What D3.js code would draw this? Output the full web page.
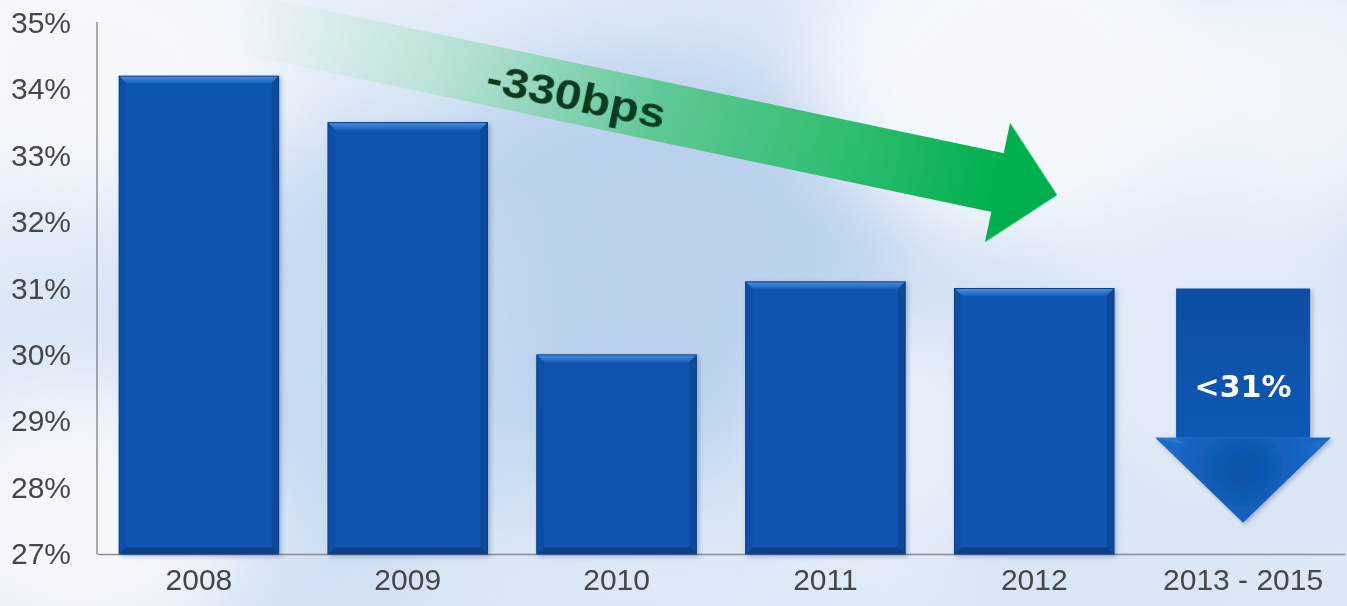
<!DOCTYPE html>
<html>
<head>
<meta charset="utf-8">
<script src="https://cdn.jsdelivr.net/npm/d3@7"></script>
<style>
  html, body { margin: 0; padding: 0; overflow: hidden; background: #dde8f5; }
  svg { display: block; }
</style>
</head>
<body>
<svg id="chart" width="1347" height="606"></svg>
<script>
// Margin by year (%), the last entry is the 2013-2015 target
const categories = ["2008", "2009", "2010", "2011", "2012", "2013 - 2015"];
const margins = [34.2, 33.5, 30.0, 31.1, 31.0, 31.0];
const yTicks = [27, 28, 29, 30, 31, 32, 33, 34, 35];
const targetLabel = "<31%";
const changeLabel = "-330bps";

const W = 1347, H = 606;
const svg = d3.select("#chart");
const defs = svg.append("defs");

// ---------- scales ----------
const x = d3.scaleBand()
  .domain(categories)
  .range([97, 1345])
  .paddingInner(0.236)
  .paddingOuter(0.106);

const y = d3.scaleLinear()
  .domain([27, 35])
  .range([554, 23]);

// ---------- background ----------
const blur = defs.append("filter").attr("id", "soft")
  .attr("x", "-50%").attr("y", "-50%").attr("width", "200%").attr("height", "200%");
blur.append("feGaussianBlur").attr("stdDeviation", 40);

const bgGrad = defs.append("linearGradient").attr("id", "bgGrad")
  .attr("x1", 0).attr("y1", 0).attr("x2", 1).attr("y2", 1);
bgGrad.append("stop").attr("offset", 0).attr("stop-color", "#eef4fb");
bgGrad.append("stop").attr("offset", 0.45).attr("stop-color", "#cfdff2");
bgGrad.append("stop").attr("offset", 1).attr("stop-color", "#dde8f6");

svg.append("rect").attr("width", W).attr("height", H).attr("fill", "url(#bgGrad)");

const blobs = [
  { cx: 640, cy: 260, rx: 260, ry: 200, c: "#b8cfec", o: 0.9 },
  { cx: 380, cy: 330, rx: 160, ry: 200, c: "#c3d7ef", o: 0.8 },
  { cx: 1020, cy: 70, rx: 210, ry: 170, c: "#f6f9fd", o: 0.95 },
  { cx: 1300, cy: 90, rx: 120, ry: 130, c: "#f3f7fc", o: 0.9 },
  { cx: 90, cy: 60, rx: 200, ry: 140, c: "#f4f8fc", o: 0.95 },
  { cx: 80, cy: 520, rx: 170, ry: 140, c: "#f5f8fc", o: 0.95 },
  { cx: 880, cy: 430, rx: 110, ry: 110, c: "#eef4fb", o: 0.8 },
  { cx: 1200, cy: 330, rx: 140, ry: 160, c: "#e6eef8", o: 0.7 },
  { cx: 700, cy: 590, rx: 300, ry: 50, c: "#e2ecf7", o: 0.8 }
];
svg.append("g").attr("filter", "url(#soft)")
  .selectAll("ellipse").data(blobs).join("ellipse")
  .attr("cx", d => d.cx).attr("cy", d => d.cy)
  .attr("rx", d => d.rx).attr("ry", d => d.ry)
  .attr("fill", d => d.c).attr("opacity", d => d.o);

// ---------- axes ----------
const fontAxis = "'Liberation Sans', Arial, sans-serif";

const yAxis = svg.append("g")
  .attr("transform", `translate(${x.range()[0]},0)`)
  .call(d3.axisLeft(y).tickValues(yTicks).tickSize(0).tickPadding(26)
    .tickFormat(d => d + "%"));
yAxis.select(".domain").attr("stroke", "#8a8e94").attr("stroke-width", 1.5)
  .attr("d", `M0,${y(35) - 1}V${y(27)}`);
yAxis.selectAll("text")
  .attr("font-family", fontAxis).attr("font-size", 30)
  .attr("fill", "#46474b");

const xAxis = svg.append("g")
  .attr("transform", `translate(0,${y(27)})`)
  .call(d3.axisBottom(x).tickSize(0).tickPadding(15));
xAxis.select(".domain").attr("stroke", "#8a8e94").attr("stroke-width", 1.5);
xAxis.selectAll("text")
  .attr("font-family", fontAxis).attr("font-size", 30)
  .attr("fill", "#46474b");

// ---------- bevelled bars ----------
const shadow = defs.append("filter").attr("id", "shadow")
  .attr("x", "-10%").attr("y", "-10%").attr("width", "130%").attr("height", "130%");
shadow.append("feDropShadow").attr("dx", 2).attr("dy", 2)
  .attr("stdDeviation", 2).attr("flood-color", "#1b3560").attr("flood-opacity", 0.3);

const topGrad = defs.append("linearGradient").attr("id", "topBevel")
  .attr("x1", 0).attr("y1", 0).attr("x2", 0).attr("y2", 1);
topGrad.append("stop").attr("offset", 0).attr("stop-color", "#4a8ddc");
topGrad.append("stop").attr("offset", 1).attr("stop-color", "#1a63c0");

const barData = categories.slice(0, 5).map((c, i) => ({ cat: c, v: margins[i] }));
const bevel = 7;
const poly = pts => pts.map(p => p.join(",")).join(" ");

const barG = svg.append("g").selectAll("g").data(barData).join("g")
  .attr("filter", "url(#shadow)");

barG.each(function (d) {
  const g = d3.select(this);
  const x0 = x(d.cat), x1 = x0 + x.bandwidth();
  const t = y(d.v), b = y(27);
  g.append("rect").attr("x", x0).attr("y", t)
    .attr("width", x1 - x0).attr("height", b - t).attr("fill", "#0b55b0");
  g.append("polygon").attr("points", poly([[x0, t], [x1, t], [x1 - bevel, t + bevel], [x0 + bevel, t + bevel]]))
    .attr("fill", "url(#topBevel)");
  g.append("polygon").attr("points", poly([[x1, t], [x1, b], [x1 - bevel, b - bevel], [x1 - bevel, t + bevel]]))
    .attr("fill", "#0a4899");
  g.append("polygon").attr("points", poly([[x0, b], [x1, b], [x1 - bevel, b - bevel], [x0 + bevel, b - bevel]]))
    .attr("fill", "#083f88");
  g.append("polygon").attr("points", poly([[x0, t], [x0 + bevel, t + bevel], [x0 + bevel, b - bevel], [x0, b]]))
    .attr("fill", "#0a50a8");
  g.append("rect").attr("x", x0).attr("y", t)
    .attr("width", x1 - x0).attr("height", b - t)
    .attr("fill", "none").attr("stroke", "#0a3f86").attr("stroke-width", 1);
});

// ---------- target arrow (2013 - 2015) ----------
const tCat = categories[5];
const tVal = margins[5];
const cx = x(tCat) + x.bandwidth() / 2;
const bodyHalf = x.bandwidth() * 0.42;
const headHalf = x.bandwidth() * 0.55;
const arrowTop = y(tVal);
const headBase = y(28.75);
const arrowTip = y(27.47);

const bodyGrad = defs.append("linearGradient").attr("id", "bodyGrad")
  .attr("x1", 0).attr("y1", 0).attr("x2", 0).attr("y2", 1);
bodyGrad.append("stop").attr("offset", 0).attr("stop-color", "#0b4ea4");
bodyGrad.append("stop").attr("offset", 1).attr("stop-color", "#0e58b3");

const headGrad = defs.append("radialGradient").attr("id", "headGrad")
  .attr("gradientUnits", "userSpaceOnUse")
  .attr("cx", cx).attr("cy", headBase + 30).attr("r", headHalf * 0.9);
headGrad.append("stop").attr("offset", 0).attr("stop-color", "#0c52a6");
headGrad.append("stop").attr("offset", 0.6).attr("stop-color", "#1360bd");
headGrad.append("stop").attr("offset", 1).attr("stop-color", "#1f6cc9");

const arrowG = svg.append("g").attr("filter", "url(#shadow)");
arrowG.append("rect")
  .attr("x", cx - bodyHalf).attr("y", arrowTop)
  .attr("width", bodyHalf * 2).attr("height", headBase - arrowTop)
  .attr("fill", "url(#bodyGrad)");
arrowG.append("polygon")
  .attr("points", poly([[cx - headHalf, headBase], [cx + headHalf, headBase], [cx, arrowTip]]))
  .attr("fill", "url(#headGrad)");
// lighter wing edges of the arrow head
arrowG.append("polygon")
  .attr("points", poly([[cx - headHalf, headBase], [cx - bodyHalf, headBase], [cx - bodyHalf + 6, headBase + 6], [cx - headHalf + 16, headBase + 4]]))
  .attr("fill", "#2a76d0");
arrowG.append("polygon")
  .attr("points", poly([[cx + headHalf, headBase], [cx + bodyHalf, headBase], [cx + bodyHalf - 6, headBase + 6], [cx + headHalf - 16, headBase + 4]]))
  .attr("fill", "#1d66c0");

svg.append("text")
  .attr("x", cx).attr("y", y(29.52))
  .attr("text-anchor", "middle").attr("dominant-baseline", "central")
  .attr("font-family", "'DejaVu Sans', sans-serif").attr("font-weight", "bold")
  .attr("font-size", 30).attr("fill", "#ffffff")
  .text(targetLabel);

// ---------- green trend arrow ----------
const trendGrad = defs.append("linearGradient").attr("id", "trendGrad")
  .attr("gradientUnits", "userSpaceOnUse")
  .attr("x1", -780).attr("y1", 0).attr("x2", 0).attr("y2", 0);
trendGrad.append("stop").attr("offset", 0).attr("stop-color", "#c8eedb").attr("stop-opacity", 0);
trendGrad.append("stop").attr("offset", 0.25).attr("stop-color", "#a6e0c2").attr("stop-opacity", 0.55);
trendGrad.append("stop").attr("offset", 0.55).attr("stop-color", "#55c78c").attr("stop-opacity", 0.9);
trendGrad.append("stop").attr("offset", 1).attr("stop-color", "#00b04e").attr("stop-opacity", 1);

const trend = svg.append("g")
  .attr("transform", "translate(997.5,182.5) rotate(11.9)");
const shaftHalf = 30, headLen = 61, headW = 61;
trend.append("path")
  .attr("d", `M-800,${-shaftHalf}L0,${-shaftHalf}L0,${-headW}L${headLen},0L0,${headW}L0,${shaftHalf}L-800,${shaftHalf}Z`)
  .attr("fill", "url(#trendGrad)");
trend.append("text")
  .attr("x", -430).attr("y", 2)
  .attr("text-anchor", "middle").attr("dominant-baseline", "central")
  .attr("font-family", "'Liberation Sans', Arial, sans-serif").attr("font-weight", "bold")
  .attr("font-size", 43).attr("fill", "#0b3b1f")
  .attr("textLength", 182).attr("lengthAdjust", "spacingAndGlyphs")
  .text(changeLabel);
</script>
</body>
</html>
